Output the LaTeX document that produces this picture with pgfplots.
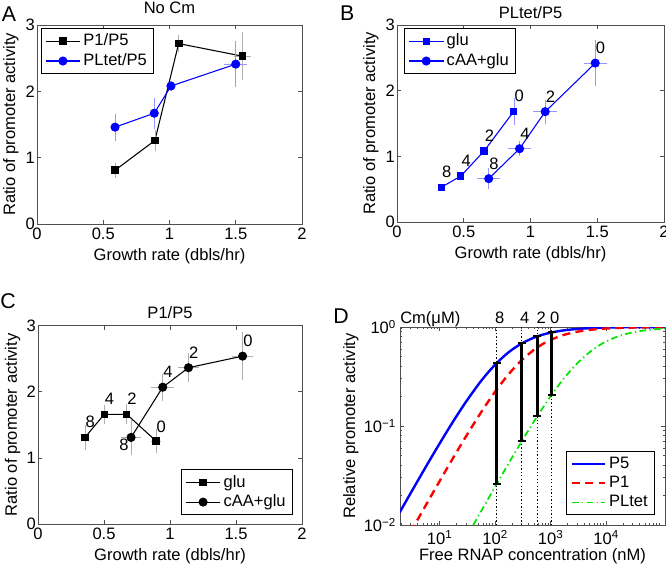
\documentclass[border=0pt]{standalone}
\usepackage{fontspec}
\setmainfont{Liberation Sans}
\usepackage{pgfplots}
\usepackage{pgfplotstable}
\pgfplotsset{compat=1.18}

\definecolor{errgray}{RGB}{175,175,175}
\definecolor{errblue}{RGB}{150,150,255}
\definecolor{mblue}{RGB}{0,0,255}
\definecolor{mgreen}{RGB}{0,230,0}
\definecolor{mred}{RGB}{255,0,0}
\definecolor{frame}{RGB}{80,80,80}
\newcommand\lbl{\fontsize{12.4}{14}\selectfont}
\newcommand\panelfont{\fontsize{16}{18}\selectfont}

% ---- Panel A
\pgfplotstableread{
x y ex ey
0.589 0.81 0.01 0.08
0.890 1.26 0.01 0.12
1.069 2.72 0.01 0.10
1.550 2.53 0.05 0.33
}\Aone
\pgfplotstableread{
x y ex ey
0.589 1.46 0.01 0.17
0.885 1.67 0.01 0.20
1.011 2.08 0.01 0.04
1.500 2.41 0.07 0.32
}\Atwo
% ---- Panel B
\pgfplotstableread{
x y ex ey
0.333 0.53 0.01 0.02
0.478 0.70 0.01 0.03
0.652 1.08 0.01 0.03
0.875 1.685 0.01 0.17
}\Bone
\pgfplotstableread{
x y ex ey
0.687 0.66 0.07 0.13
0.918 1.116 0.07 0.08
1.110 1.68 0.072 0.15
1.485 2.42 0.072 0.32
}\Btwo
% ---- Panel C
\pgfplotstableread{
x y ex ey
0.356 1.31 0.01 0.16
0.502 1.66 0.01 0.11
0.672 1.66 0.01 0.12
0.894 1.256 0.02 0.15
}\Cone
\pgfplotstableread{
x y ex ey
0.705 1.31 0.057 0.23
0.945 2.07 0.07 0.17
1.140 2.365 0.063 0.19
1.550 2.54 0.063 0.33
}\Ctwo
% ---- Panel D
\pgfplotstableread{
x y
1.9 0.01339
3 0.02098
5 0.03448
7 0.04762
10 0.06667
15 0.09677
20 0.125
30 0.1765
50 0.2632
70 0.3333
100 0.4167
150 0.5172
200 0.5882
300 0.6818
500 0.7813
700 0.8333
1000 0.8772
1500 0.9146
2000 0.9346
3000 0.9554
5000 0.9728
7000 0.9804
10000 0.9862
20000 0.9931
50000 0.9972
120000 0.9988
}\DPfive
\pgfplotstableread{
x y
3 0.0085
4 0.01130
5 0.01408
7 0.01961
10 0.02778
15 0.04110
20 0.05405
30 0.07895
50 0.125
70 0.1667
100 0.2222
150 0.3
200 0.3636
300 0.4615
500 0.5882
700 0.6667
1000 0.7407
1500 0.8108
2000 0.8511
3000 0.8955
5000 0.9346
7000 0.9524
10000 0.9662
20000 0.9828
50000 0.9930
120000 0.9971
}\DPone
\pgfplotstableread{
x y
30 0.00744
40 0.0099
50 0.01235
70 0.01720
100 0.02439
150 0.03614
200 0.04762
300 0.06977
500 0.1111
700 0.1489
1000 0.2
1500 0.2727
2000 0.3333
3000 0.4286
5000 0.5556
7000 0.6364
10000 0.7143
15000 0.7895
20000 0.8333
30000 0.8824
50000 0.9259
70000 0.9459
120000 0.9677
}\DPLtet

\tikzset{
  lab/.style={font=\lbl, inner sep=0pt, xshift=4pt, yshift=11.5pt},
  toplab/.style={font=\lbl, inner sep=0pt, anchor=base, yshift=2.6pt, xshift=2.4pt},
}
\pgfplotsset{
  panel/.style={
    scale only axis,
    axis line style={frame, line width=0.5pt},
    every tick/.style={frame, line width=0.5pt},
    tick align=inside,
    major tick length=3pt,
    minor tick length=1.8pt,
    /pgf/number format/assume math mode=true,
    tick label style={font=\lbl, inner sep=1.5pt},
    xticklabel style={yshift=-1.5pt},
    label style={font=\lbl},
    title style={font=\lbl, anchor=base, at={(0.5,1)}, inner sep=0pt},
    legend cell align=left,
    legend style={font=\lbl, draw=black, line width=0.5pt, fill=white},
    legend image code/.code={\draw[mark repeat=2,mark phase=2,##1] plot coordinates {(0pt,0pt) (13pt,0pt) (26pt,0pt)};},
  },
  linelegend/.style={
    legend image code/.code={\draw[##1] (0pt,0pt) -- (25pt,0pt);},
  },
  lin/.style={
    xmin=0, xmax=2, ymin=0, ymax=3,
    xtick={0,0.5,1,1.5,2}, ytick={0,1,2,3},
    xlabel={Growth rate (dbls/hr)},
    ylabel={Ratio of promoter activity},
    xlabel style={at={(axis description cs:0.5,0)}, anchor=base, yshift=-27.75pt},
    ylabel style={at={(axis description cs:0,0.5)}, anchor=base, yshift=16.5pt},
  },
  errs/.style={
    error bars/x dir=both, error bars/x explicit,
    error bars/y dir=both, error bars/y explicit,
    error bars/error bar style={#1, line width=0.4pt, solid},
    error bars/error mark options={#1, mark size=1.6pt, line width=0.4pt}},
  blk/.style={black, line width=0.8pt, errs=errgray},
  blu/.style={mblue, line width=0.8pt, errs=errblue},
}

\begin{document}
\lbl
\begin{tikzpicture}
\useasboundingbox (0,0) rectangle (499.5pt,428.25pt);

% ================= A
\begin{axis}[panel, lin, at={(27.75pt,260.25pt)}, anchor=south west,
  width=198.75pt, height=149.25pt,
  title={No Cm}, title style={yshift=2.8pt},
  legend style={at={(0,1)}, anchor=north west, xshift=2.8pt, yshift=-2.5pt}]
\addplot[blk, mark=square*, mark size=2.5pt, mark options={fill=black}]
  table[x=x, y=y, x error=ex, y error=ey] {\Aone};
\addlegendentry{P1/P5}
\addplot[blu, mark=*, mark size=3pt, mark options={fill=mblue}]
  table[x=x, y=y, x error=ex, y error=ey] {\Atwo};
\addlegendentry{PLtet/P5}
\end{axis}

% ================= B
\begin{axis}[panel, lin, at={(297.75pt,261.75pt)}, anchor=south west,
  width=200.25pt, height=147.75pt,
  title={PLtet/P5}, title style={yshift=-1pt},
  legend style={at={(0,1)}, anchor=north west, xshift=5.25pt, yshift=-2.5pt}]
\addplot[blu, mark=square*, mark size=2.3pt, mark options={fill=mblue}]
  table[x=x, y=y, x error=ex, y error=ey] {\Bone};
\addlegendentry{glu}
\addplot[blu, mark=*, mark size=3pt, mark options={fill=mblue}]
  table[x=x, y=y, x error=ex, y error=ey] {\Btwo};
\addlegendentry{cAA+glu}
\node[lab] at (axis cs:0.333,0.53) {8};
\node[lab] at (axis cs:0.478,0.70) {4};
\node[lab] at (axis cs:0.652,1.08) {2};
\node[lab] at (axis cs:0.875,1.685) {0};
\node[lab] at (axis cs:0.687,0.66) {8};
\node[lab] at (axis cs:0.918,1.116) {4};
\node[lab] at (axis cs:1.110,1.68) {2};
\node[lab] at (axis cs:1.485,2.42) {0};
\end{axis}

% ================= C
\begin{axis}[panel, lin, at={(28.5pt,35.25pt)}, anchor=south west,
  width=198pt, height=148.7pt,
  title={P1/P5}, title style={yshift=-0.5pt},
  xlabel style={yshift=0.75pt},
  ylabel style={yshift=-0.75pt},
  legend style={at={(1,0)}, anchor=south east, xshift=-7pt, yshift=6.75pt}]
\addplot[blk, mark=square*, mark size=2.4pt, mark options={fill=black}]
  table[x=x, y=y, x error=ex, y error=ey] {\Cone};
\addlegendentry{glu}
\addplot[blk, mark=*, mark size=3pt, mark options={fill=black}]
  table[x=x, y=y, x error=ex, y error=ey] {\Ctwo};
\addlegendentry{cAA+glu}
\node[lab] at (axis cs:0.356,1.31) {8};
\node[lab] at (axis cs:0.502,1.66) {4};
\node[lab] at (axis cs:0.672,1.66) {2};
\node[lab, yshift=-1.2pt] at (axis cs:0.894,1.256) {0};
\node[font=\lbl, inner sep=0pt, xshift=-5.25pt, yshift=-5.5pt] at (axis cs:0.705,1.31) {8};
\node[lab] at (axis cs:0.945,2.07) {4};
\node[lab] at (axis cs:1.140,2.365) {2};
\node[lab] at (axis cs:1.550,2.54) {0};
\end{axis}

% ================= D
\begin{axis}[panel, linelegend, at={(300pt,34.5pt)}, anchor=south west,
  width=198.75pt, height=148.5pt,
  xmode=log, ymode=log, clip mode=individual,
  xmin=1.93, xmax=115000, ymin=0.01, ymax=1,
  xtick={10,100,1000,10000},
  xticklabels={10\textsuperscript{1},10\textsuperscript{2},10\textsuperscript{3},10\textsuperscript{4}},
  ytick={0.01,0.1,1},
  yticklabels={10\textsuperscript{−2},10\textsuperscript{−1},10\textsuperscript{0}},
  minor xtick={2,3,4,5,6,7,8,9,20,30,40,50,60,70,80,90,200,300,400,500,600,700,800,900,2000,3000,4000,5000,6000,7000,8000,9000,20000,30000,40000,50000,60000,70000,80000,90000},
  minor ytick={0.02,0.03,0.04,0.05,0.06,0.07,0.08,0.09,0.2,0.3,0.4,0.5,0.6,0.7,0.8,0.9},
  yticklabel style={inner sep=2.8pt},
  xticklabel style={yshift=-1pt},
  xlabel={Free RNAP concentration (nM)},
  ylabel={Relative promoter activity},
  xlabel style={at={(axis description cs:0.5,0)}, anchor=base, yshift=-26.25pt},
  ylabel style={at={(axis description cs:0,0.5)}, anchor=base, yshift=33.75pt},
  legend style={at={(1,0)}, anchor=south east, xshift=-7.7pt, yshift=7.5pt}]
\addplot[mblue, line width=1.8pt, smooth] table {\DPfive};
\addlegendentry{P5}
\addplot[mred, line width=1.8pt, smooth, dash pattern=on 6pt off 4pt] table {\DPone};
\addlegendentry{P1}
\addplot[mgreen, line width=1.3pt, smooth, dash pattern=on 5pt off 2.5pt on 1pt off 2.5pt] table {\DPLtet};
\addlegendentry{PLtet}
\addplot[black, line width=0.6pt, dash pattern=on 1pt off 1.6pt, forget plot] coordinates {(106,0.01) (106,1)};
\addplot[black, line width=0.6pt, dash pattern=on 1pt off 1.6pt, forget plot] coordinates {(300,0.01) (300,1)};
\addplot[black, line width=0.6pt, dash pattern=on 1pt off 1.6pt, forget plot] coordinates {(574,0.01) (574,1)};
\addplot[black, line width=0.6pt, dash pattern=on 1pt off 1.6pt, forget plot] coordinates {(1042,0.01) (1042,1)};
\addplot[black, line width=2pt, mark=-, mark size=3pt, mark options={solid, line width=1.5pt}, forget plot] coordinates {(106,0.02582) (106,0.4309)};
\addplot[black, line width=2pt, mark=-, mark size=3pt, mark options={solid, line width=1.5pt}, forget plot] coordinates {(300,0.06977) (300,0.6818)};
\addplot[black, line width=2pt, mark=-, mark size=3pt, mark options={solid, line width=1.5pt}, forget plot] coordinates {(574,0.1255) (574,0.8039)};
\addplot[black, line width=2pt, mark=-, mark size=3pt, mark options={solid, line width=1.5pt}, forget plot] coordinates {(1042,0.2067) (1042,0.8816)};
\node[font=\lbl, inner sep=0pt, anchor=base west, yshift=2.6pt] at (rel axis cs:0,1) {Cm(μM)};
\node[toplab] at (axis cs:106,1) {8};
\node[toplab] at (axis cs:300,1) {4};
\node[toplab, xshift=0.6pt] at (axis cs:574,1) {2};
\node[toplab] at (axis cs:1042,1) {0};
\end{axis}

% panel letters
\node[font=\panelfont, inner sep=0pt, anchor=base west] at (1.3pt,412pt) {A};
\node[font=\panelfont, inner sep=0pt, anchor=base west] at (254.8pt,412.7pt) {B};
\node[font=\panelfont, inner sep=0pt, anchor=base west] at (0pt,197pt) {C};
\node[font=\panelfont, inner sep=0pt, anchor=base west] at (249.75pt,185.8pt) {D};
\end{tikzpicture}
\end{document}
